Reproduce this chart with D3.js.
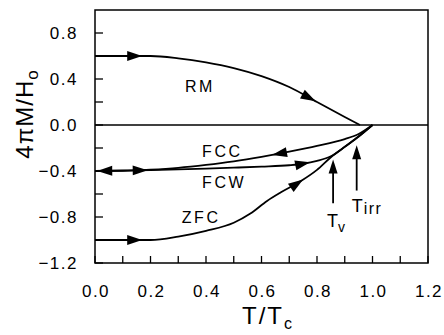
<!DOCTYPE html>
<html>
<head>
<meta charset="utf-8">
<script src="https://cdn.jsdelivr.net/npm/d3@7"></script>
<style>
  body { margin: 0; background: #fff; }
  svg text { font-family: "Liberation Sans", Arial, Helvetica, sans-serif; fill: #000; }
</style>
</head>
<body>
<svg id="chart"></svg>
<script>
// curves: T/Tc vs 4piM/H0
const t_rm  = [0, 0.2, 0.3, 0.4, 0.5, 0.6, 0.7, 0.8, 0.9, 0.955];
const m_rm  = [0.6, 0.6, 0.58, 0.545, 0.495, 0.425, 0.33, 0.2, 0.07, 0.0];

const t_fcc = [0, 0.1, 0.2, 0.3, 0.4, 0.5, 0.6, 0.7, 0.8, 0.9, 0.95, 1.0];
const m_fcc = [-0.4, -0.398, -0.388, -0.372, -0.347, -0.316, -0.277, -0.232, -0.182, -0.122, -0.078, 0.0];

const t_fcw = [0, 0.2, 0.3, 0.4, 0.5, 0.6, 0.7, 0.75, 0.8, 0.85, 0.9, 0.95, 1.0];
const m_fcw = [-0.4, -0.392, -0.386, -0.379, -0.371, -0.362, -0.35, -0.337, -0.312, -0.272, -0.19, -0.1, 0.0];

const t_zfc = [0, 0.2, 0.3, 0.4, 0.5, 0.56, 0.62, 0.67, 0.74, 0.8, 0.85, 0.9, 0.95, 1.0];
const m_zfc = [-1.0, -1.0, -0.97, -0.92, -0.85, -0.77, -0.66, -0.585, -0.49, -0.39, -0.28, -0.19, -0.1, 0.0];

// arrowheads: where the tip sits (T) and which way it points
const arrows_rm  = [{t: 0.17, dir: 1}, {t: 0.795, dir: 1}];
const arrows_fcc = [{t: 0.008, dir: -1}, {t: 0.638, dir: -1}];
const arrows_fcw = [{t: 0.19, dir: 1}, {t: 0.775, dir: 1}];
const arrows_zfc = [{t: 0.17, dir: 1}, {t: 0.75, dir: 1}];

const curve_labels = [
  {text: "RM",  t: 0.378, m: 0.287,  anchor: "middle"},
  {text: "FCC", t: 0.386, m: -0.278, anchor: "start"},
  {text: "FCW", t: 0.386, m: -0.548, anchor: "start"},
  {text: "ZFC", t: 0.313, m: -0.852, anchor: "start"}
];

// vertical markers Tv and Tirr
const markers = [
  {main: "T", sub: "v",   t: 0.858, from: -0.68, to: -0.3},
  {main: "T", sub: "irr", t: 0.943, from: -0.57, to: -0.175}
];

const x_ticks = d3.range(0, 1.21, 0.1);
const x_labels = [0, 0.2, 0.4, 0.6, 0.8, 1.0, 1.2];
const y_ticks = d3.range(-1.2, 0.81, 0.2);
const y_labels = [-1.2, -0.8, -0.4, 0.0, 0.4, 0.8];

const width = 444, height = 335;
const margin = {top: 10, right: 16, bottom: 72, left: 95};

const svg = d3.select("#chart").attr("width", width).attr("height", height);

const x = d3.scaleLinear().domain([0, 1.2]).range([margin.left, width - margin.right]);
const y = d3.scaleLinear().domain([-1.2, 1.0]).range([height - margin.bottom, margin.top]);

const g = svg.append("g");

// ticks (inward), bottom and left only
g.selectAll(".xt").data(x_ticks).enter().append("line")
  .attr("x1", d => x(d)).attr("x2", d => x(d))
  .attr("y1", y(-1.2)).attr("y2", y(-1.2) - 7)
  .attr("stroke", "#000").attr("stroke-width", 1.3);

g.selectAll(".yt").data(y_ticks).enter().append("line")
  .attr("x1", x(0)).attr("x2", x(0) + 8)
  .attr("y1", d => y(d)).attr("y2", d => y(d))
  .attr("stroke", "#000").attr("stroke-width", 1.3);

g.selectAll(".xl").data(x_labels).enter().append("text")
  .attr("x", d => x(d) + 1).attr("y", 297)
  .attr("text-anchor", "middle")
  .style("font-size", "17px").style("letter-spacing", "1.5px")
  .text(d => d3.format(".1f")(d));

g.selectAll(".yl").data(y_labels).enter().append("text")
  .attr("x", 78).attr("y", d => y(d) + 6)
  .attr("text-anchor", "end")
  .style("font-size", "17px").style("letter-spacing", "1.5px")
  .text(d => d3.format(".1f")(d).replace("-", "\u2212"));

// frame and zero line
g.append("rect")
  .attr("x", x(0)).attr("y", y(1.0))
  .attr("width", x(1.2) - x(0)).attr("height", y(-1.2) - y(1.0))
  .attr("fill", "none").attr("stroke", "#000").attr("stroke-width", 1.5);

g.append("line")
  .attr("x1", x(0)).attr("x2", x(1.2))
  .attr("y1", y(0)).attr("y2", y(0))
  .attr("stroke", "#000").attr("stroke-width", 1.4);

const line = d3.line().x(d => x(d[0])).y(d => y(d[1])).curve(d3.curveMonotoneX);

function interp(ts, ms, t) {
  for (let i = 1; i < ts.length; i++) {
    if (t <= ts[i]) {
      const f = (t - ts[i - 1]) / (ts[i] - ts[i - 1]);
      return ms[i - 1] + f * (ms[i] - ms[i - 1]);
    }
  }
  return ms[ms.length - 1];
}

function drawCurve(ts, ms, arrows) {
  g.append("path")
    .datum(ts.map((t, i) => [t, ms[i]]))
    .attr("d", line)
    .attr("fill", "none").attr("stroke", "#000").attr("stroke-width", 1.8);

  arrows.forEach(a => {
    const px = x(a.t), py = y(interp(ts, ms, a.t));
    const dt = 0.01;
    const dx = x(a.t + dt) - x(a.t - dt);
    const dy = y(interp(ts, ms, a.t + dt)) - y(interp(ts, ms, a.t - dt));
    let ang = Math.atan2(dy, dx) * 180 / Math.PI;
    if (a.dir < 0) ang += 180;
    g.append("path")
      .attr("d", "M0,0 L-15,-5 L-15,5 Z")
      .attr("transform", `translate(${px},${py}) rotate(${ang})`)
      .attr("fill", "#000");
  });
}

drawCurve(t_rm, m_rm, arrows_rm);
drawCurve(t_fcc, m_fcc, arrows_fcc);
drawCurve(t_fcw, m_fcw, arrows_fcw);
drawCurve(t_zfc, m_zfc, arrows_zfc);

g.selectAll(".cl").data(curve_labels).enter().append("text")
  .attr("x", d => x(d.t)).attr("y", d => y(d.m))
  .attr("text-anchor", d => d.anchor)
  .style("font-size", "16px").style("letter-spacing", "2.5px")
  .text(d => d.text);

markers.forEach(m => {
  g.append("line")
    .attr("x1", x(m.t)).attr("x2", x(m.t))
    .attr("y1", y(m.from)).attr("y2", y(m.to) + 12)
    .attr("stroke", "#000").attr("stroke-width", 1.8);
  g.append("path")
    .attr("d", "M0,0 L-14,-4.5 L-14,4.5 Z")
    .attr("transform", `translate(${x(m.t)},${y(m.to)}) rotate(-90)`)
    .attr("fill", "#000");
});

const tv = g.append("text").attr("x", x(markers[0].t) - 6).attr("y", 227)
  .style("font-size", "18px");
tv.append("tspan").text(markers[0].main);
tv.append("tspan").attr("dy", 5).style("font-size", "14px").text(markers[0].sub);

const ti = g.append("text").attr("x", x(markers[1].t) - 5).attr("y", 212)
  .style("font-size", "18px");
ti.append("tspan").text(markers[1].main);
ti.append("tspan").attr("dy", 2).attr("dx", 1).style("font-size", "16px")
  .style("letter-spacing", "1.5px").text(markers[1].sub);

// axis titles
const xt = g.append("text")
  .attr("x", 268).attr("y", 324)
  .attr("text-anchor", "middle")
  .style("font-size", "24px").style("letter-spacing", "2px");
xt.append("tspan").text("T/T");
xt.append("tspan").attr("dy", 5).style("font-size", "16px").text("c");

const yt = g.append("text")
  .attr("transform", "translate(33,114) rotate(-90)")
  .attr("text-anchor", "middle")
  .style("font-size", "24px").style("letter-spacing", "1px");
yt.append("tspan").text("4\u03c0M/H");
yt.append("tspan").attr("dy", 5).style("font-size", "17px").text("o");
</script>
</body>
</html>
